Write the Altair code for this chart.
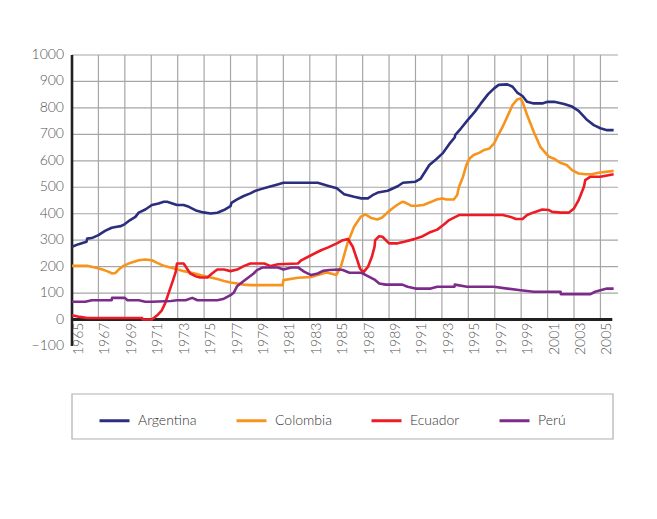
import altair as alt
import pandas as pd

countries = ["Argentina", "Colombia", "Ecuador", "Perú"]
colors = ["#2B2E7C", "#F7941E", "#ED1C24", "#7D2B8B"]

arg_years = [1965.0, 1965.5, 1966.1, 1966.15, 1966.5, 1967.0, 1967.5, 1968.0, 1968.4, 1968.7, 1969.0, 1969.4, 1969.8,
             1970.05, 1970.55, 1971.05, 1971.55, 1971.95, 1972.2, 1972.6, 1972.95, 1973.45, 1973.85, 1974.45, 1974.95,
             1975.5, 1976.0, 1976.5, 1977.0, 1977.07, 1977.5, 1978.0, 1978.5, 1978.9, 1979.3, 1980.0, 1980.5, 1981.0,
             1982.1, 1983.6, 1984.35, 1985.05, 1985.6, 1986.35, 1986.9, 1987.4, 1987.75, 1988.15, 1988.9, 1989.65,
             1990.05, 1991.0, 1991.4, 1992.05, 1992.55, 1993.05, 1993.55, 1993.98, 1994.0, 1994.45, 1994.95, 1995.5,
             1995.95, 1996.5, 1996.95, 1997.3, 1997.95, 1998.35, 1998.7, 1999.1, 1999.45, 1999.95, 2000.6, 2001.0,
             2001.5, 2002.25, 2002.85, 2003.35, 2004.0, 2004.5, 2005.0, 2005.5, 2006.0]
arg_vals = [275, 285, 294, 306, 308, 319, 335, 347, 351, 353, 361, 376, 388,
            404, 416, 433, 439, 445, 445, 439, 433, 433, 426, 411, 405,
            401, 404, 414, 429, 441, 454, 467, 477, 487, 493, 503, 510, 517,
            517, 517, 506, 496, 474, 464, 458, 458, 470, 480, 487, 504,
            517, 521, 533, 584, 605, 628, 663, 689, 697, 723, 754, 786,
            817, 852, 874, 887, 889, 880, 858, 845, 823, 817, 817, 823,
            823, 815, 805, 789, 754, 735, 723, 716, 716]

col_years = [1965.0, 1966.15, 1966.9, 1967.3, 1967.65, 1968.05, 1968.3, 1968.55, 1968.9, 1969.4, 1970.05, 1970.55,
             1971.05, 1971.45, 1971.95, 1972.45, 1972.95, 1973.45, 1973.95, 1974.45, 1974.95, 1975.5, 1976.0, 1976.5,
             1977.0, 1977.5, 1978.0, 1978.5, 1980.95, 1981.0, 1982.1, 1983.1, 1983.6, 1984.25, 1984.6, 1985.0, 1985.35,
             1985.85, 1986.35, 1986.85, 1987.2, 1987.6, 1988.1, 1988.45, 1989.1, 1989.6, 1990.0, 1990.2, 1990.7, 1991.1,
             1991.6, 1992.2, 1992.6, 1993.05, 1993.35, 1993.9, 1994.15, 1994.3, 1994.6, 1994.85, 1995.1, 1995.4,
             1995.85, 1996.2, 1996.6, 1996.95, 1997.2, 1997.6, 1997.95, 1998.35, 1998.7, 1998.95, 1999.1, 1999.45,
             1999.95, 2000.45, 2001.1, 2001.45, 2001.95, 2002.45, 2002.85, 2003.35, 2003.85, 2004.35, 2004.85, 2006.0]
col_vals = [203, 203, 195, 189, 183, 174, 176, 190, 203, 214, 224, 227,
            224, 214, 203, 197, 190, 183, 178, 172, 165, 159, 153, 146,
            140, 136, 132, 130, 130, 149, 158, 161, 168, 178, 174, 168, 199,
            288, 351, 388, 398, 385, 378, 385, 414, 433, 445, 443, 430, 430,
            433, 445, 454, 458, 454, 454, 470, 502, 540, 584, 609, 622,
            631, 641, 647, 666, 691, 729, 767, 811, 832, 836, 823, 773,
            710, 653, 615, 609, 593, 584, 565, 552, 549, 549, 555, 562]

ecu_years = [1965.0, 1965.6, 1966.15, 1968.4, 1969.4, 1970.3, 1970.35, 1971.05, 1971.45, 1971.8, 1972.05, 1972.3,
             1972.65, 1972.85, 1972.95, 1973.45, 1973.7, 1973.95, 1974.35, 1974.7, 1975.25, 1975.6, 1976.0, 1976.5,
             1977.0, 1977.5, 1978.0, 1978.5, 1979.55, 1980.05, 1980.6, 1982.1, 1982.35, 1983.1, 1983.85, 1984.35,
             1985.05, 1985.5, 1985.9, 1986.25, 1986.6, 1986.8, 1987.05, 1987.4, 1987.7, 1987.9, 1987.95, 1988.25,
             1988.5, 1989.0, 1989.65, 1990.15, 1990.9, 1991.55, 1992.05, 1992.65, 1993.15, 1993.55, 1993.95, 1994.3,
             1997.6, 1998.2, 1998.6, 1999.1, 1999.45, 1999.95, 2000.6, 2001.1, 2001.35, 2002.0, 2002.6, 2003.0,
             2003.35, 2003.75, 2003.85, 2004.25, 2005.0, 2006.0]
ecu_vals = [16, 10, 6, 6, 6, 6, 0, 0, 16, 35, 61, 98,
            149, 180, 212, 212, 193, 174, 164, 159, 159, 174, 189, 189,
            183, 189, 202, 212, 212, 202, 209, 212, 224, 243, 262, 272,
            288, 300, 304, 275, 224, 193, 178, 199, 237, 275, 300, 315,
            313, 288, 288, 294, 304, 315, 329, 340, 359, 376, 386, 395,
            395, 388, 380, 380, 395, 405, 416, 414, 407, 404, 404, 420,
            451, 502, 527, 540, 540, 549]

per_years = [1965.0, 1966.0, 1966.5, 1968.0, 1968.03, 1969.0, 1969.2, 1970.05, 1970.55, 1971.05, 1972.5, 1972.95,
             1973.6, 1974.1, 1974.5, 1976.0, 1976.5, 1977.0, 1977.25, 1977.5, 1977.9, 1978.4, 1978.75, 1979.0,
             1979.45, 1980.6, 1981.0, 1981.6, 1982.1, 1982.6, 1983.1, 1983.6, 1984.0, 1984.5, 1985.2, 1985.5,
             1986.0, 1986.9, 1987.25, 1987.9, 1988.25, 1988.75, 1990.0, 1990.4, 1991.0, 1992.15, 1992.65, 1993.95,
             1993.98, 1994.9, 1996.95, 1997.95, 1998.95, 1999.95, 2001.98, 2002.0, 2004.25, 2004.6, 2005.0,
             2005.5, 2006.0]
per_vals = [67, 67, 73, 73, 82, 82, 73, 73, 67, 67, 70, 73,
            73, 82, 73, 73, 79, 92, 102, 126, 142, 161, 174, 187,
            197, 197, 189, 197, 197, 180, 168, 174, 184, 187, 189, 187,
            177, 177, 168, 151, 136, 132, 132, 124, 117, 117, 124, 124,
            132, 124, 124, 117, 111, 105, 105, 96, 96, 105, 111,
            117, 117]

y_ticks = [-100, 0, 100, 200, 300, 400, 500, 600, 700, 800, 900, 1000]
grid_vals = [100, 200, 300, 400, 500, 600, 700, 800, 900, 1000]
year_ticks = list(range(1965, 2006, 2))

FONT = "Lato"
W, H = 546, 291
PAD_L, PAD_T = 64, 47
CANVAS_W, CANVAS_H = 641, 495

rows = []
for name, ys, vs in zip(countries, [arg_years, col_years, ecu_years, per_years],
                        [arg_vals, col_vals, ecu_vals, per_vals]):
    for i, (yr, v) in enumerate(zip(ys, vs)):
        rows.append({"pais": name, "anio": yr, "valor": v, "orden": i})
df = pd.DataFrame(rows)

xscale = alt.Scale(domain=[1965, 2006.33], nice=False, zero=False)
yscale = alt.Scale(domain=[-100, 1000], nice=False, zero=False)

hgrid = alt.Chart(pd.DataFrame({"v": grid_vals})).mark_rule(color="#a6a6a6", strokeWidth=1.2).encode(
    y=alt.Y("v:Q", scale=yscale, axis=None), x=alt.value(0), x2=alt.value(W))

vgrid = alt.Chart(pd.DataFrame({"yr": year_ticks, "lo": 0, "hi": 1000})).mark_rule(
    color="#a6a6a6", strokeWidth=1.2).encode(
    x=alt.X("yr:Q", scale=xscale, axis=None),
    y=alt.Y("lo:Q", scale=yscale, axis=None), y2="hi:Q")

xlabels = alt.Chart(pd.DataFrame({"yr": year_ticks, "z": 0})).mark_text(
    angle=270, align="right", baseline="middle", dx=-3, dy=7,
    font=FONT, fontSize=14, fontWeight=300, color="#555555").encode(
    x=alt.X("yr:Q", scale=xscale, axis=None),
    y=alt.Y("z:Q", scale=yscale, axis=None),
    text=alt.Text("yr:N"))

ylabels = alt.Chart(pd.DataFrame({"v": y_ticks, "x0": 1965})).mark_text(
    align="right", baseline="middle", dx=-8,
    font=FONT, fontSize=14, fontWeight=300, color="#555555").encode(
    x=alt.X("x0:Q", scale=xscale, axis=None),
    y=alt.Y("v:Q", scale=yscale, axis=None),
    text=alt.Text("v:Q", format="d"))

yaxis = alt.Chart(pd.DataFrame({"x0": [1965], "lo": [-100], "hi": [1000]})).mark_rule(
    color="#231F20", strokeWidth=2.6).encode(
    x=alt.X("x0:Q", scale=xscale, axis=None),
    y=alt.Y("lo:Q", scale=yscale, axis=None), y2="hi:Q")

xaxis = alt.Chart(pd.DataFrame({"x0": [1965], "x1": [2005.9], "z": [0]})).mark_rule(
    color="#231F20", strokeWidth=3).encode(
    x=alt.X("x0:Q", scale=xscale, axis=None), x2="x1:Q",
    y=alt.Y("z:Q", scale=yscale, axis=None))

lines = alt.Chart(df).mark_line(strokeWidth=2.6, strokeJoin="round").encode(
    x=alt.X("anio:Q", scale=xscale, axis=None),
    y=alt.Y("valor:Q", scale=yscale, axis=None),
    color=alt.Color("pais:N", scale=alt.Scale(domain=countries, range=colors),
                    legend=alt.Legend(title=None, orient="none", direction="horizontal",
                                      legendX=26, legendY=349, symbolType="stroke",
                                      symbolSize=900, symbolStrokeWidth=3,
                                      labelFont=FONT, labelFontSize=14, labelFontWeight=300,
                                      labelColor="#333333", labelOffset=7, columnPadding=33,
                                      gridAlign="each", padding=0)),
    order="orden:Q")

legend_box = alt.Chart(pd.DataFrame({"a": [0]})).mark_rect(
    fill=None, stroke="#b0b0b0", strokeWidth=1.2).encode(
    x=alt.value(0), x2=alt.value(541), y=alt.value(339), y2=alt.value(384))

chart = alt.layer(hgrid, vgrid, xlabels, ylabels, yaxis, xaxis, lines, legend_box).properties(
    width=W, height=H,
    autosize=alt.AutoSizeParams(type="none"),
    padding={"left": PAD_L, "top": PAD_T, "right": CANVAS_W - PAD_L - W, "bottom": CANVAS_H - PAD_T - H},
    background="white",
).configure_view(stroke=None)

chart.save("out.html", embed_options={"renderer": "svg", "actions": False})
